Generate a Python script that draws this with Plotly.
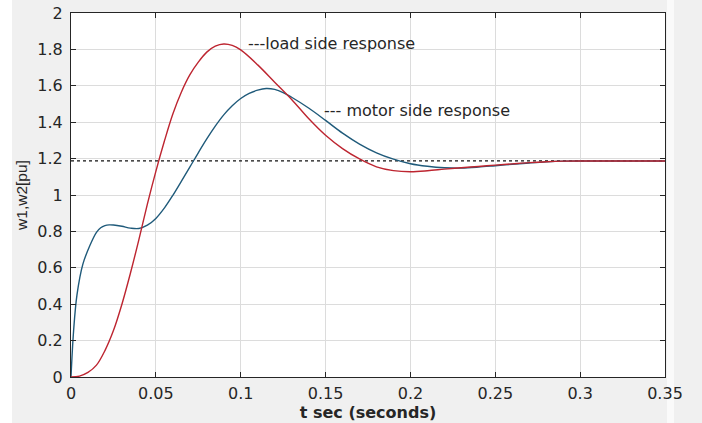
import plotly.graph_objects as go

# ---- data ----
t_load = [0, 0.005, 0.01, 0.015, 0.02, 0.025, 0.03, 0.035, 0.04, 0.045, 0.05, 0.055,
          0.06, 0.065, 0.07, 0.075, 0.08, 0.085, 0.09, 0.095, 0.1, 0.11, 0.12, 0.13,
          0.14, 0.15, 0.16, 0.17, 0.18, 0.19, 0.2, 0.21, 0.22, 0.23, 0.24, 0.25, 0.26,
          0.27, 0.28, 0.29, 0.3, 0.35]
w_load = [0, 0.005, 0.025, 0.065, 0.145, 0.255, 0.40, 0.57, 0.755, 0.95, 1.13, 1.295,
          1.445, 1.565, 1.66, 1.73, 1.785, 1.818, 1.83, 1.822, 1.797, 1.715, 1.62, 1.525,
          1.42, 1.328, 1.255, 1.198, 1.155, 1.134, 1.128, 1.133, 1.142, 1.15, 1.157, 1.164, 1.171,
          1.178, 1.183, 1.186, 1.187, 1.187]

t_motor = [0, 0.0015, 0.0035, 0.007, 0.011, 0.015, 0.0175, 0.02, 0.0225, 0.025, 0.03,
           0.035, 0.04, 0.045, 0.05, 0.055, 0.06, 0.065, 0.07, 0.075, 0.08, 0.085, 0.09,
           0.095, 0.1, 0.105, 0.11, 0.115, 0.12, 0.125, 0.13, 0.14, 0.15, 0.16, 0.17,
           0.18, 0.19, 0.2, 0.21, 0.22, 0.23, 0.24, 0.25, 0.26, 0.27, 0.28, 0.29, 0.3, 0.35]
w_motor = [0, 0.25, 0.45, 0.62, 0.72, 0.795, 0.82, 0.832, 0.836, 0.835, 0.828,
           0.818, 0.816, 0.834, 0.871, 0.928, 0.998, 1.075, 1.153, 1.232, 1.308, 1.378, 1.44,
           1.49, 1.53, 1.558, 1.576, 1.585, 1.58, 1.563, 1.537, 1.478, 1.41, 1.34, 1.28,
           1.232, 1.197, 1.172, 1.158, 1.15, 1.148, 1.153, 1.161, 1.169, 1.176, 1.182, 1.186, 1.187, 1.187]

final_value = 1.187
x_ticks = [0, 0.05, 0.1, 0.15, 0.2, 0.25, 0.3, 0.35]
y_ticks = [0, 0.2, 0.4, 0.6, 0.8, 1, 1.2, 1.4, 1.6, 1.8, 2]

load_label = "---load side response"
motor_label = "--- motor side response"
load_label_pos = (0.1031, 1.833)
motor_label_pos = (0.1477, 1.463)

RED = "#bd2530"
BLUE = "#1f5a7a"
INK = "#262626"
FONT = "DejaVu Sans"

fig = go.Figure()

fig.add_trace(go.Scatter(x=[x_ticks[0], x_ticks[-1]], y=[final_value, final_value],
                         mode="lines", line=dict(color="#111111", width=1.2, dash="dot"),
                         showlegend=False, hoverinfo="skip"))
fig.add_trace(go.Scatter(x=t_motor, y=w_motor, mode="lines",
                         line=dict(color=BLUE, width=1.4, shape="spline", smoothing=1.0),
                         showlegend=False))
fig.add_trace(go.Scatter(x=t_load, y=w_load, mode="lines",
                         line=dict(color=RED, width=1.4, shape="spline", smoothing=1.0),
                         showlegend=False))

fig.add_annotation(x=load_label_pos[0], y=load_label_pos[1], text=load_label,
                   showarrow=False, xanchor="left", yanchor="middle",
                   font=dict(family=FONT, size=16, color=INK))
fig.add_annotation(x=motor_label_pos[0], y=motor_label_pos[1], text=motor_label,
                   showarrow=False, xanchor="left", yanchor="middle",
                   font=dict(family=FONT, size=16, color=INK))

# white strips of the screenshot background
L, R, T, B = 71, 665, 13, 377
W, H = 702, 423
def px(xp):
    return (xp - L) / (R - L)
def py(yp):
    return (B - yp) / (B - T)
fig.add_shape(type="rect", xref="paper", yref="paper", x0=px(0), x1=px(12),
              y0=py(H), y1=py(0), fillcolor="white", line=dict(width=0), layer="below")
fig.add_shape(type="rect", xref="paper", yref="paper", x0=px(667), x1=px(674),
              y0=py(H), y1=py(0), fillcolor="#fafafa", line=dict(width=0), layer="below")

axis_common = dict(showline=True, linecolor=INK, linewidth=1, mirror="ticks",
                   ticks="inside", ticklen=5, tickcolor=INK, showgrid=True,
                   gridcolor="#dcdcdc", gridwidth=1, zeroline=False,
                   tickfont=dict(family=FONT, size=16, color=INK))

fig.update_layout(
    width=W, height=H,
    margin=dict(l=L, r=W - R, t=T, b=H - B, autoexpand=False),
    paper_bgcolor="#f0f0f0", plot_bgcolor="white",
    showlegend=False,
    xaxis=dict(range=[0, 0.35], tickvals=x_ticks, ticktext=[f"{v:g}" for v in x_ticks],
               title=dict(text="<b>t sec (seconds)</b>", standoff=3,
                          font=dict(family=FONT, size=16, color=INK)),
               ticklabelstandoff=2, automargin=False, **axis_common),
    yaxis=dict(range=[0, 2], tickvals=y_ticks, ticktext=[f"{v:g}" for v in y_ticks],
               title=dict(text="w1,w2[pu]", standoff=5,
                          font=dict(family="Liberation Sans, Arial", size=15.5, color=INK)),
               ticklabelstandoff=4, automargin=False, **axis_common),
)

fig.write_html("out.html", config={"displayModeBar": False},
               post_script="document.body.style.margin='0';document.body.style.padding='0';")
